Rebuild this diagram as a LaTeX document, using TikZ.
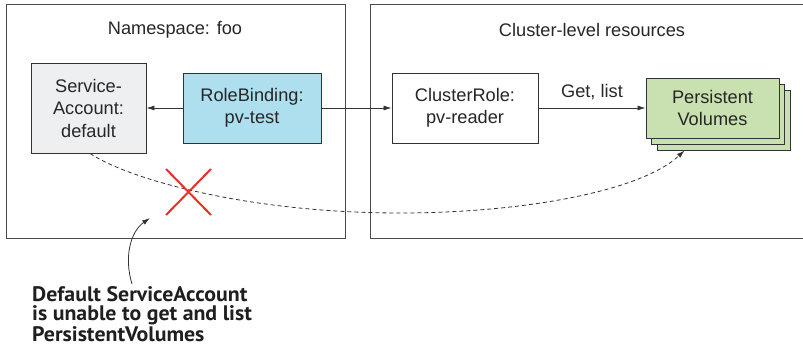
\documentclass[tikz,border=0pt]{standalone}
\usepackage{fontspec}
\setmainfont{Liberation Sans}
\newfontfamily\callfont[FakeStretch=1.04]{PT Sans}
\usetikzlibrary{arrows.meta,calc}
\definecolor{linec}{HTML}{333333}
\definecolor{framec}{HTML}{4A4A4A}
\definecolor{safill}{HTML}{EEEFF1}
\definecolor{rbfill}{HTML}{ADDFEF}
\definecolor{pvfill}{HTML}{C9E1B1}
\definecolor{xred}{HTML}{E8302A}
\begin{document}
\begin{tikzpicture}[x=1pt,y=1pt,
  every node/.style={font=\fontsize{18.2}{22.5}\selectfont, text=black!85},
  frame/.style={draw=framec, line width=1pt},
  res/.style={draw=linec, line width=0.9pt, align=center, inner sep=0pt},
  conn/.style={draw=linec, line width=0.8pt, -{Latex[length=8pt,width=5pt]}},
  title/.style={anchor=center}
]
\clip (0,0) rectangle (803,-358);
% frames
\draw[frame] (6,-5) rectangle (345,-238);
\draw[frame] (370,-5) rectangle (820,-238);
\node[title] (nst) at (175,-30) {Namespace: foo};
\node[title] (clt) at (592,-30) {Cluster-level resources};
% resources
\node[res, fill=safill, minimum width=115pt, minimum height=90pt] (sa) at (88.5,-108) {Service-\\Account:\\default};
\node[res, fill=rbfill, minimum width=138pt, minimum height=70pt] (rb) at (252,-108) {RoleBinding:\\pv-test};
\node[res, fill=white, minimum width=146pt, minimum height=70pt] (cr) at (465,-108) {ClusterRole:\\pv-reader};
\node[res, fill=pvfill, minimum width=133pt, minimum height=60pt] (pv3) at (723.5,-120) {};
\node[res, fill=pvfill, minimum width=133pt, minimum height=60pt] (pv2) at (718,-114) {};
\node[res, fill=pvfill, minimum width=133pt, minimum height=60pt] (pv1) at (712.5,-108) {Persistent\\Volumes};
% connectors
\draw[conn] (rb.west) -- (sa.east);
\draw[conn] (rb.east) -- (cr.west);
\draw[conn] (cr.east) -- node[midway, above=8pt, inner sep=0pt] (gl) {Get, list} (pv1.west);
\coordinate (pvb) at ($(pv3.south west)+(28,0)$);
\coordinate (sab) at ($(sa.south)+(1.5,0)$);
\draw[conn, dashed, dash pattern=on 4pt off 3pt] (sab) .. controls (130,-180) and (250,-213) .. (400,-213) .. controls (520,-213) and (640,-192) .. (pvb);
% red X
\draw[xred, line width=2pt] (166,-169) -- (211,-215) (211,-169) -- (166,-215);
% callout
\node[anchor=base west, align=left, inner sep=0pt, font=\callfont\bfseries\fontsize{21}{19}\selectfont, text=black!88] (call) at (32,-341) {Default ServiceAccount\\is unable to get and list\\PersistentVolumes};
\coordinate (callend) at (150,-218);
\draw[conn, line width=0.8pt] (132,-284) .. controls (124,-258) and (130,-232) .. (callend);
\end{tikzpicture}
\end{document}
